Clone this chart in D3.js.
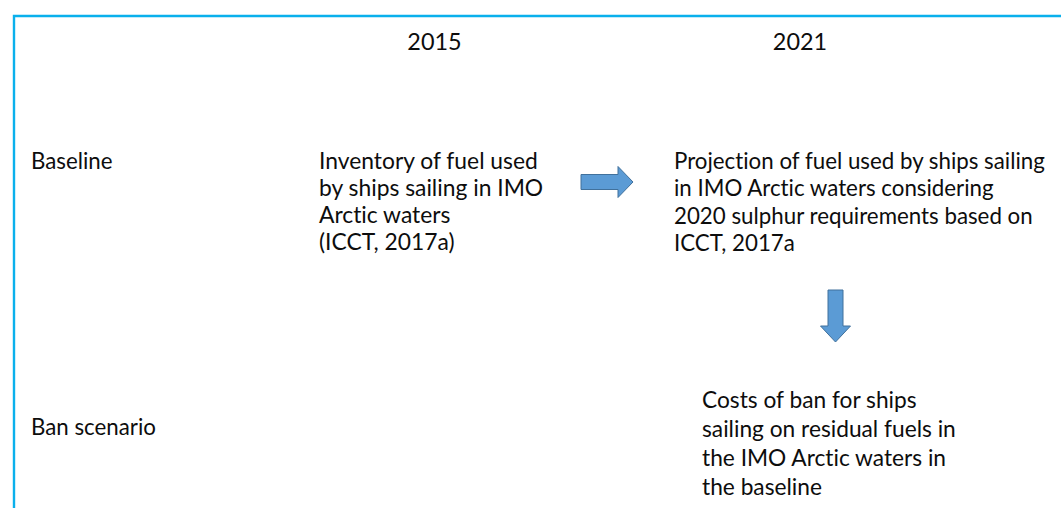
<!DOCTYPE html>
<html>
<head>
<meta charset="utf-8">
<script src="https://cdn.jsdelivr.net/npm/d3@7"></script>
<style>
  html, body { margin: 0; padding: 0; background: #fff; }
  svg { display: block; }
  text { font-family: Lato, "Open Sans", sans-serif; fill: #0d0d0d; font-variant-ligatures: none; font-feature-settings: "liga" 0, "clig" 0; }
</style>
</head>
<body>
<svg id="chart" width="1061" height="508"></svg>
<script>
// ---- content ----
const columns = ["2015", "2021"];
const rows = ["Baseline", "Ban scenario"];
const baseline2015 = ["Inventory of fuel used", "by ships sailing in IMO", "Arctic waters", "(ICCT, 2017a)"];
const baseline2021 = ["Projection of fuel used by ships sailing", "in IMO Arctic waters considering", "2020 sulphur requirements based on", "ICCT, 2017a"];
const ban2021 = ["Costs of ban for ships", "sailing on residual fuels in", "the IMO Arctic waters in", "the baseline"];

// ---- layout ----
const W = 1061, H = 508;
const svg = d3.select("#chart");

// column centers and row baselines
const colX = d3.scaleOrdinal(columns, [434.5, 800]);
const rowY = d3.scaleOrdinal(rows, [169, 435]);

const borderColor = "#0AB0EC";
svg.append("path")
  .attr("d", `M14,${H} L14,16 L${W},16`)
  .attr("fill", "none")
  .attr("stroke", borderColor)
  .attr("stroke-width", 2.4);

// helper: fit font size so a reference string has a target width
function fitSize(str, target) {
  const t = svg.append("text").attr("font-size", 20).text(str);
  const w = t.node().getComputedTextLength();
  t.remove();
  return 20 * target / w;
}

// row labels
const labelSize = fitSize("Ban scenario", 125);
svg.selectAll("text.row").data(rows).join("text")
  .attr("class", "row")
  .attr("x", 31)
  .attr("y", d => rowY(d))
  .attr("font-size", labelSize)
  .text(d => d);

// column headers
svg.selectAll("text.year").data(columns).join("text")
  .attr("class", "year")
  .attr("x", d => colX(d))
  .attr("y", 50)
  .attr("text-anchor", "middle")
  .attr("font-size", labelSize * 1.05)
  .text(d => d);

// text blocks
function block(lines, x, y0, lh, refIdx, refW) {
  const size = fitSize(lines[refIdx], refW);
  svg.append("g").selectAll("text").data(lines).join("text")
    .attr("x", x)
    .attr("y", (d, i) => y0 + i * lh)
    .attr("font-size", size)
    .text(d => d);
}
block(baseline2015, 319, rowY("Baseline"), 27, 0, 219);
block(baseline2021, 674, rowY("Baseline"), 27.3, 0, 371);
block(ban2021, 702, rowY("Ban scenario") - 27, 29, 1, 254);

// arrows
const arrowFill = "#5B9BD5", arrowStroke = "#41719C";
function rightArrow(x0, x1, cy, bodyH, headH, headL) {
  const p = d3.path();
  p.moveTo(x0, cy - bodyH / 2);
  p.lineTo(x1 - headL, cy - bodyH / 2);
  p.lineTo(x1 - headL, cy - headH / 2);
  p.lineTo(x1, cy);
  p.lineTo(x1 - headL, cy + headH / 2);
  p.lineTo(x1 - headL, cy + bodyH / 2);
  p.lineTo(x0, cy + bodyH / 2);
  p.closePath();
  return p.toString();
}
function downArrow(cx, y0, y1, bodyW, headW, headL) {
  const p = d3.path();
  p.moveTo(cx - bodyW / 2, y0);
  p.lineTo(cx + bodyW / 2, y0);
  p.lineTo(cx + bodyW / 2, y1 - headL);
  p.lineTo(cx + headW / 2, y1 - headL);
  p.lineTo(cx, y1);
  p.lineTo(cx - headW / 2, y1 - headL);
  p.lineTo(cx - bodyW / 2, y1 - headL);
  p.closePath();
  return p.toString();
}
svg.append("path")
  .attr("d", rightArrow(581, 633, 182, 15, 31, 15))
  .attr("fill", arrowFill).attr("stroke", arrowStroke).attr("stroke-width", 1);
svg.append("path")
  .attr("d", downArrow(835.5, 290, 342, 15, 30, 16))
  .attr("fill", arrowFill).attr("stroke", arrowStroke).attr("stroke-width", 1);
</script>
</body>
</html>
